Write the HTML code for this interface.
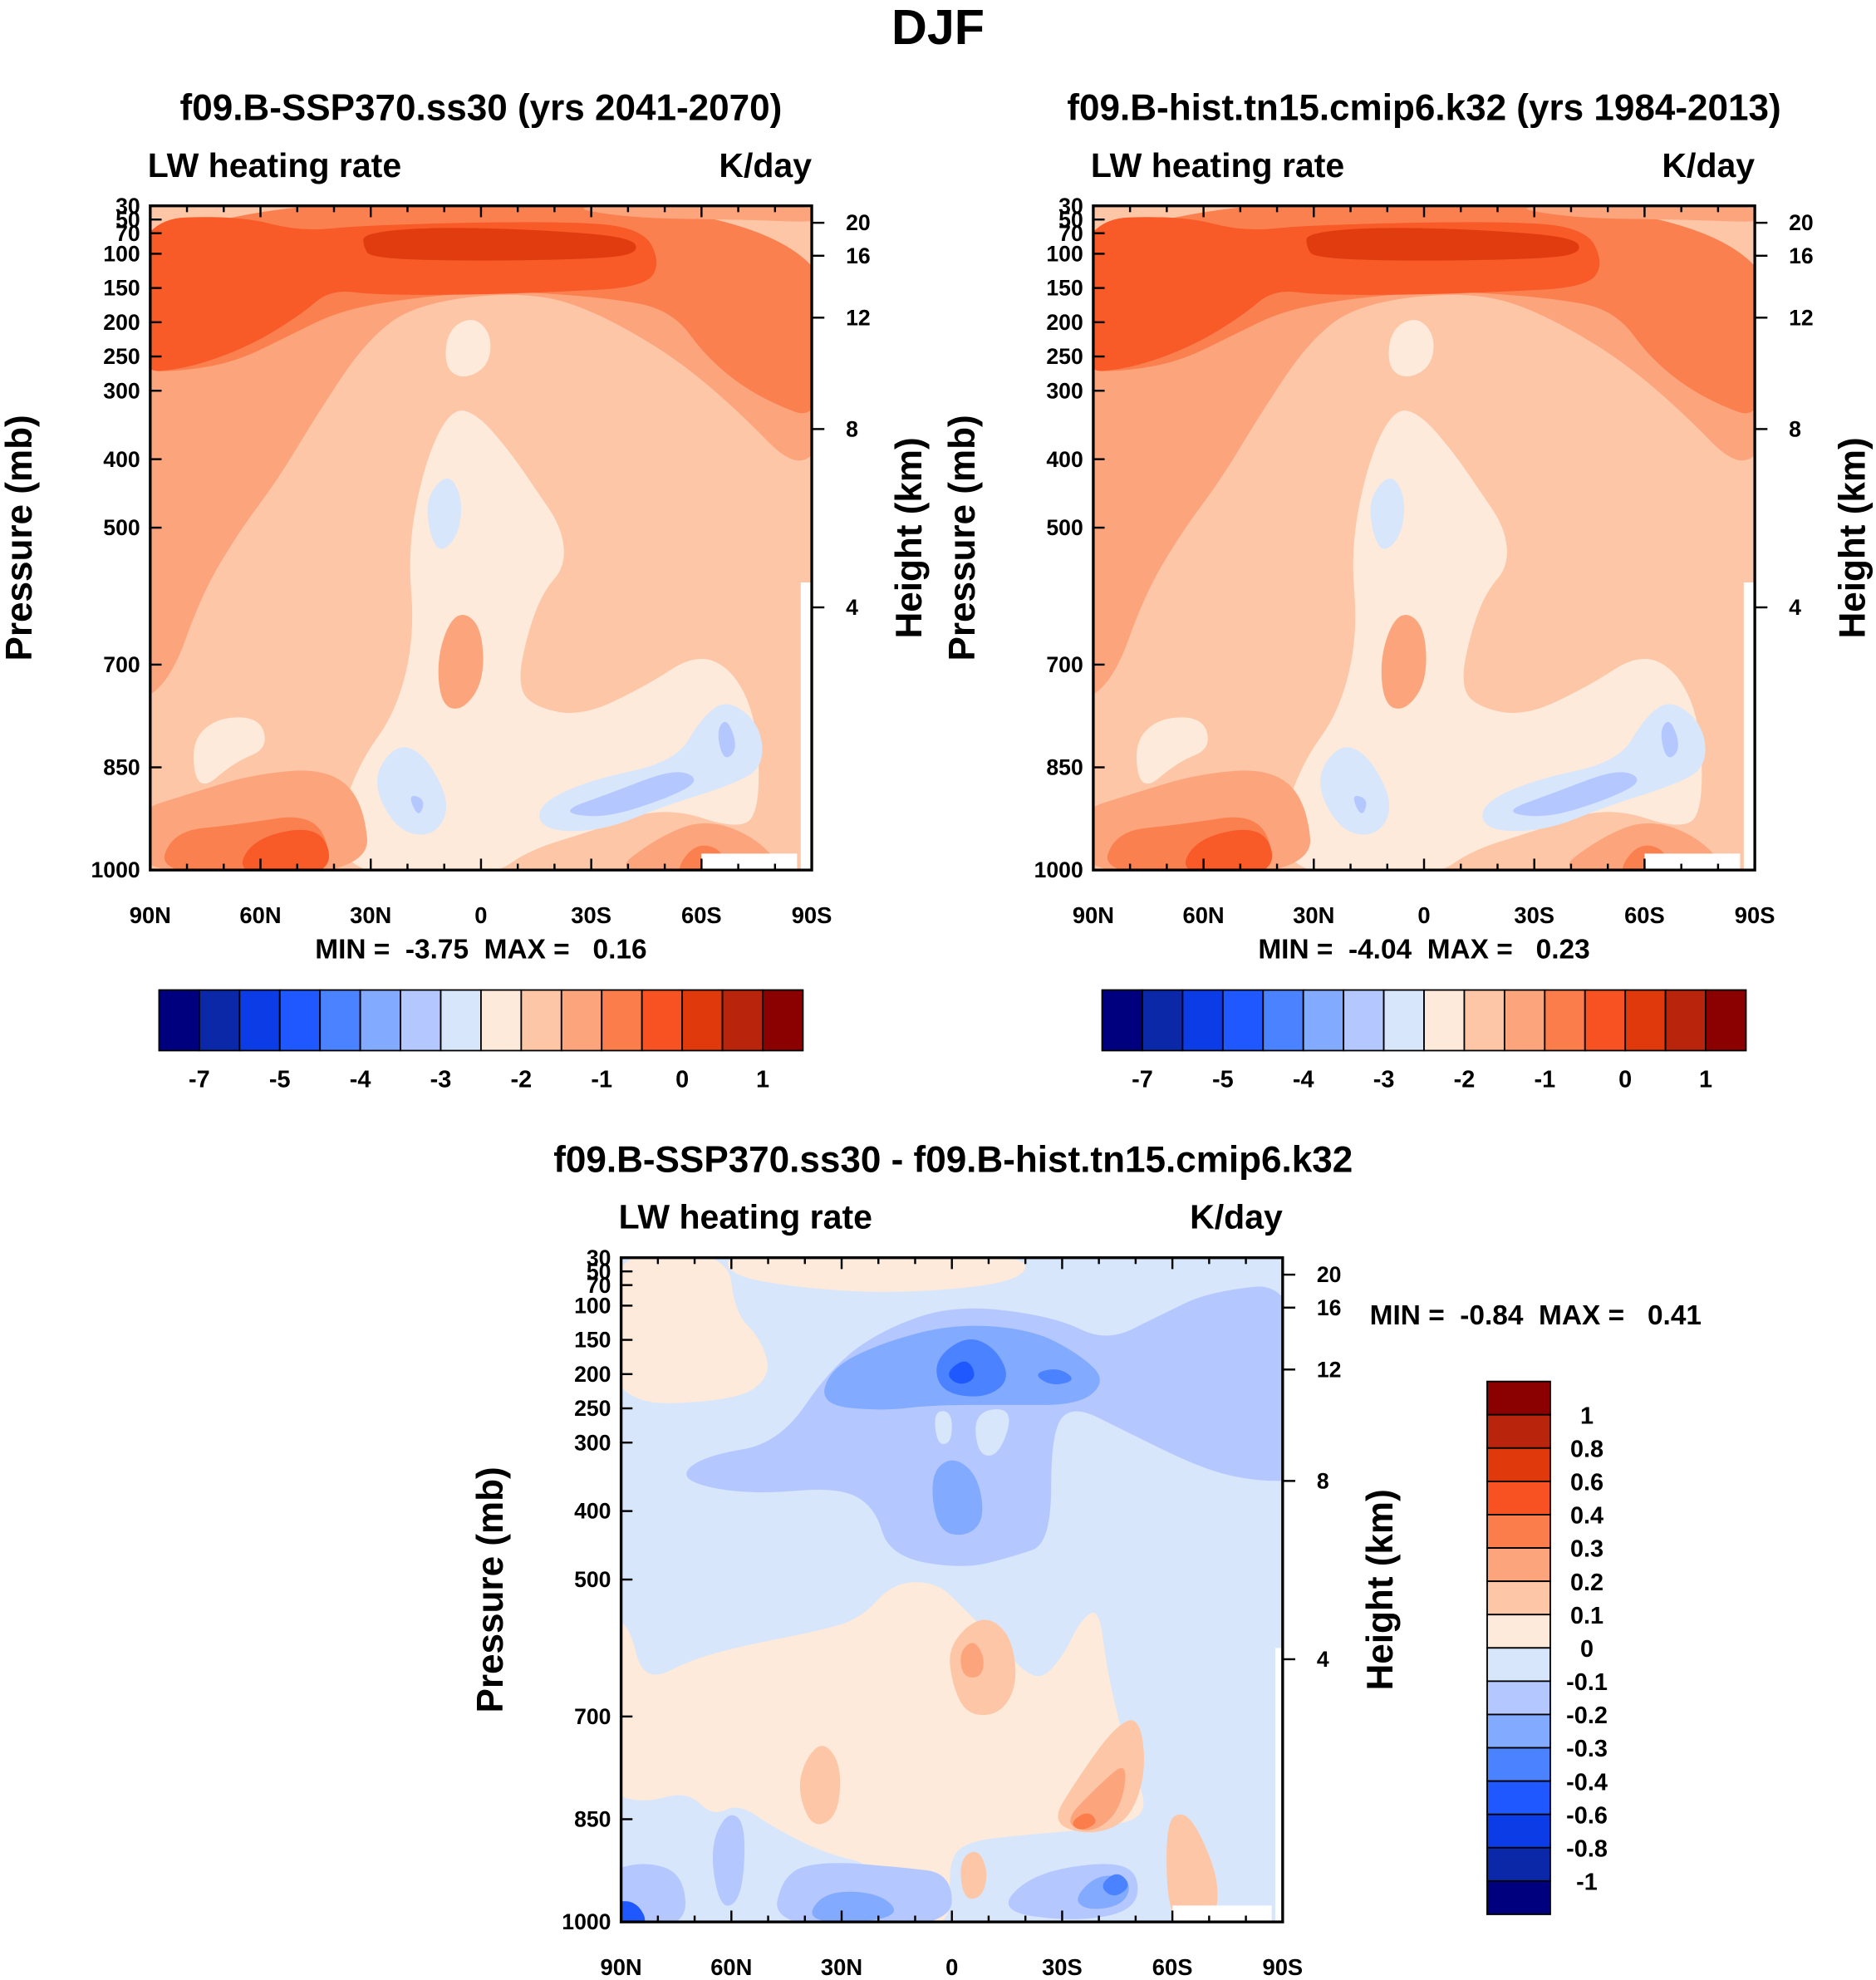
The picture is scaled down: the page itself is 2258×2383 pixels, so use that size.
<!DOCTYPE html>
<html><head><meta charset="utf-8"><style>
html,body{margin:0;padding:0;background:#fff;}
svg{display:block;font-family:"Liberation Sans",Arial,sans-serif;font-weight:bold;}
text{white-space:pre;}
</style></head><body>
<svg id="fig" xmlns="http://www.w3.org/2000/svg" width="2258" height="2383" viewBox="0 0 1486 1568" preserveAspectRatio="none">
<rect width="1486" height="1568" fill="#fff"/>
<text x="743" y="35" font-size="39" text-anchor="middle">DJF</text>
<g id="root"></g>
</svg>
<script>
// ---------- data ----------
const pressureTicks = [30,50,70,100,150,200,250,300,400,500,700,850,1000];
const heightTicks = [20,16,12,8,4];
const latTicks = [90,60,30,0,-30,-60,-90];
const latLabels = ["90N","60N","30N","0","30S","60S","90S"];
const absColors = ["#00007f","#0a28a8","#0c3ce6","#2058ff","#4b82ff","#82aaff","#b4c8ff","#d7e6fa","#fdeadb","#fdc6a6","#fca57d","#fb7d4b","#f85223","#e03a0c","#b8250c","#8b0000"];
const absLabels = ["-7","-5","-4","-3","-2","-1","0","1"];
const diffColors = ["#8b0000","#b8250c","#e03a0c","#f85223","#fb7d4b","#fca57d","#fdc6a6","#fdeadb","#d7e6fa","#b4c8ff","#82aaff","#4b82ff","#2058ff","#0c3ce6","#0a28a8","#00007f"];
const diffLabels = ["1","0.8","0.6","0.4","0.3","0.2","0.1","0","-0.1","-0.2","-0.3","-0.4","-0.6","-0.8","-1"];
// contour regions as [lat, pressure] points, with color level
const absRegions = [
 {c:"#fca57d", pts:[[95,20],[-95,20],[-95,467],[-61.5,283],[-34,190],[-13.4,154],[17.5,172],[31.3,227],[45,338],[55.3,430],[65.6,504],[75.9,596],[84.5,725],[95,760]]},
 {c:"#fb8050", pts:[[95,20],[-95,20],[-95,350],[-76,312],[-62,256],[-52,182],[-34,164],[-7,154],[17,163],[38,182],[52,219],[66,256],[80,271],[95,272]]},
 {c:"#fca57d", pts:[[-20,28],[-95,28],[-95,55],[-70,50],[-40,48]]},
 {c:"#f85a28", pts:[[95,50],[66,44],[49,68],[32,58],[-20,52],[-44,61],[-49,116],[-44,149],[-20,156],[4,160],[29,160],[41,152],[49,189],[63,235],[80,268],[95,274]]},
 {c:"#e03c10", pts:[[32,70],[14,61],[-17,65],[-41,76],[-43,98],[-34,107],[0,111],[30,107],[32,89]]},
 {c:"#fdeadb", pts:[[39,934],[33,842],[23,768],[18,657],[20,528],[15,399],[8,325],[1,334],[-8,390],[-15,445],[-22,500],[-23,556],[-17,593],[-13,648],[-10,722],[-13,759],[-27,777],[-45,731],[-58,685],[-68,704],[-75,777],[-76,906],[-71,943],[-50,906],[-30,943],[-13,971],[-3,1010],[35,1010]]},
 {c:"#fdeadb", pts:[[9,210],[2,191],[-3,219],[-2,265],[5,284],[10,265]]},
 {c:"#fdeadb", pts:[[79,814],[72,777],[60,777],[58,823],[67,842],[77,888]]},
 {c:"#fca57d", pts:[[12,685],[7,620],[0,639],[-1,722],[5,768],[11,759]]},
 {c:"#d7e6fa", pts:[[15,456],[9,419],[5,456],[6,510],[11,538],[14,510]]},
 {c:"#d7e6fa", pts:[[30,869],[23,814],[15,832],[8,906],[13,952],[23,943]]},
 {c:"#b4c8ff", pts:[[20,888],[15,897],[17,925]]},
 {c:"#d7e6fa", pts:[[-15,906],[-29,869],[-53,842],[-60,777],[-67,750],[-76,787],[-77,851],[-67,878],[-50,906],[-33,943],[-17,943]]},
 {c:"#b4c8ff", pts:[[-21,915],[-35,888],[-53,851],[-60,869],[-50,897],[-33,925]]},
 {c:"#b4c8ff", pts:[[-64,796],[-67,777],[-70,823],[-66,842]]},
 {c:"#fca57d", pts:[[95,1010],[95,915],[79,888],[62,860],[42,851],[32,897],[30,1010]]},
 {c:"#fb8050", pts:[[88,1010],[84,943],[67,934],[44,915],[40,1010]]},
 {c:"#f85a28", pts:[[67,1010],[62,952],[43,934],[40,1010]]},
 {c:"#fca57d", pts:[[-34,1010],[-48,952],[-61,925],[-75,952],[-84,1010]]},
 {c:"#fb8050", pts:[[-52,1010],[-58,960],[-66,970],[-66,1010]]}
];
const diffRegions = [
 {c:"#fdeadb", pts:[[95,20],[61,20],[59,111],[52,148],[49,203],[59,240],[95,245]]},
 {c:"#fdeadb", pts:[[61,20],[-20,20],[-20,65],[14,83],[42,74],[61,55]]},
 {c:"#b4c8ff", pts:[[74,347],[67,319],[47,301],[33,191],[19,135],[-1,98],[-28,116],[-42,153],[-56,116],[-70,79],[-95,66],[-95,356],[-82,356],[-68,338],[-47,283],[-33,245],[-27,282],[-27,447],[-17,466],[-3,485],[17,466],[21,393],[31,365],[52,375],[67,366]]},
 {c:"#82aaff", pts:[[36,245],[33,191],[19,154],[-1,126],[-22,135],[-35,172],[-42,209],[-35,245],[-15,245],[5,245],[19,254]]},
 {c:"#4b82ff", pts:[[5,180],[-4,143],[-12,162],[-16,208],[-9,236],[3,227]]},
 {c:"#4b82ff", pts:[[-22,199],[-29,190],[-34,209],[-27,218]]},
 {c:"#2058ff", pts:[[2,199],[-4,175],[-7,205],[-2,218]]},
 {c:"#d7e6fa", pts:[[5,254],[0,254],[0,300],[4,304]]},
 {c:"#d7e6fa", pts:[[-6,254],[-17,249],[-13,319],[-7,319]]},
 {c:"#82aaff", pts:[[6,347],[0,319],[-7,347],[-9,411],[-4,438],[4,429]]},
 {c:"#fdeadb", pts:[[95,560],[88,560],[84,652],[70,615],[56,596],[39,578],[25,559],[16,504],[4,504],[-3,541],[-13,596],[-23,652],[-30,615],[-35,559],[-40,541],[-42,624],[-45,698],[-49,772],[-54,845],[-40,864],[-17,874],[-4,883],[1,911],[0,1010],[18,1010],[20,918],[34,901],[48,864],[58,827],[65,846],[72,809],[84,827],[95,809]]},
 {c:"#fdc6a6", pts:[[1,596],[-8,550],[-16,578],[-18,652],[-13,698],[-4,698],[0,652]]},
 {c:"#fca57d", pts:[[-2,606],[-6,587],[-9,615],[-8,643],[-3,643]]},
 {c:"#fdc6a6", pts:[[40,763],[35,735],[30,772],[31,846],[38,864],[42,809]]},
 {c:"#fdc6a6", pts:[[-27,855],[-33,800],[-44,716],[-51,698],[-53,781],[-48,855],[-37,874]]},
 {c:"#fca57d", pts:[[-30,855],[-40,800],[-48,763],[-46,837],[-38,872]]},
 {c:"#fb7d4b", pts:[[-32,855],[-37,837],[-40,855],[-35,868]]},
 {c:"#fdc6a6", pts:[[-58,855],[-63,837],[-68,874],[-73,947],[-71,1010],[-59,1010]]},
 {c:"#fdc6a6", pts:[[-2,909],[-7,892],[-10,928],[-8,966],[-3,966]]},
 {c:"#b4c8ff", pts:[[49,1010],[46,929],[35,911],[14,920],[0,929],[0,1010]]},
 {c:"#82aaff", pts:[[40,1000],[35,956],[21,956],[14,984],[21,1000]]},
 {c:"#b4c8ff", pts:[[-12,984],[-22,929],[-43,911],[-51,929],[-50,984],[-33,1000]]},
 {c:"#82aaff", pts:[[-33,966],[-40,929],[-49,938],[-47,975],[-37,984]]},
 {c:"#4b82ff", pts:[[-40,947],[-45,925],[-49,947],[-44,966]]},
 {c:"#b4c8ff", pts:[[95,1010],[95,929],[84,911],[73,929],[72,1010]]},
 {c:"#b4c8ff", pts:[[66,892],[61,837],[56,856],[57,966],[63,984]]},
 {c:"#2058ff", pts:[[95,1010],[95,975],[86,966],[82,1010]]}
];
// ---------- drawing ----------
const NS="http://www.w3.org/2000/svg";
const root=document.getElementById('root');
function el(tag,attrs,parent,txt){const e=document.createElementNS(NS,tag);for(const k in attrs)e.setAttribute(k,attrs[k]);if(txt!==undefined)e.textContent=txt;(parent||root).appendChild(e);return e;}
function heightToP(z){const m=z*1000;return m<=11000?1013.25*Math.pow(1-2.25577e-5*m,5.25588):226.32*Math.exp(-(m-11000)/6341.6);}
function smoothPath(pp){const n=pp.length;const mid=(a,b)=>[(a[0]+b[0])/2,(a[1]+b[1])/2];let m=mid(pp[n-1],pp[0]);let d="M"+m[0].toFixed(1)+","+m[1].toFixed(1);for(let i=0;i<n;i++){const q=mid(pp[i],pp[(i+1)%n]);d+=" Q"+pp[i][0].toFixed(1)+","+pp[i][1].toFixed(1)+" "+q[0].toFixed(1)+","+q[1].toFixed(1);}return d+"Z";}
let clipId=0;
function panel(x0,y0,bg,regions,whites,name){
  const W=524,H=526;
  const xs=lat=>x0+(90-lat)/180*W;
  const ys=p=>y0+(p-30)/970*H;
  const g=el('g',{});
  
  
  const id='clip'+(clipId++);
  const cp=el('clipPath',{id:id},g);el('rect',{x:x0,y:y0,width:W,height:H},cp);
  const cg=el('g',{'clip-path':'url(#'+id+')'},g);
  const bgr=el('rect',{x:x0,y:y0,width:W,height:H,fill:bg},cg);
  
  
  regions.forEach(r=>{
    const p=el('path',{d:smoothPath(r.pts.map(q=>[xs(q[0]),ys(q[1])])),fill:r.c},cg);
    
    
  });
  whites.forEach(w=>{
    const r=el('rect',{x:xs(w[0]),y:ys(w[2]),width:xs(w[1])-xs(w[0]),height:ys(w[3])-ys(w[2]),fill:'#fff'},cg);
    
    
  });
  el('rect',{x:x0,y:y0,width:W,height:H,fill:'none',stroke:'#000','stroke-width':2.2},g);
  for(let lat=90;lat>=-90;lat-=10){
    const x=xs(lat);const major=lat%30===0;const L=major?9:5;
    el('line',{x1:x,y1:y0+H,x2:x,y2:y0+H-L,stroke:'#000','stroke-width':1.6},g);
    el('line',{x1:x,y1:y0,x2:x,y2:y0+L,stroke:'#000','stroke-width':1.6},g);
  }
  latTicks.forEach((lat,i)=>{
    const t=el('text',{x:xs(lat),y:y0+H+42,'font-size':18,'text-anchor':'middle'},g,latLabels[i]);
    
    
  });
  pressureTicks.forEach(p=>{
    const y=ys(p);
    el('line',{x1:x0,y1:y,x2:x0+9,y2:y,stroke:'#000','stroke-width':1.6},g);
    const t=el('text',{x:x0-8,y:y+6,'font-size':17.5,'text-anchor':'end'},g,String(p));
    
    
  });
  heightTicks.forEach(z=>{
    const y=ys(heightToP(z));
    el('line',{x1:x0+W,y1:y,x2:x0+W+10,y2:y,stroke:'#000','stroke-width':1.6},g);
    const t=el('text',{x:x0+W+27,y:y+6,'font-size':17.5},g,String(z));
    
    
  });
  const lt=el('text',{x:x0-2,y:y0-23,'font-size':27},g,'LW heating rate');
  
  
  const ut=el('text',{x:x0+W,y:y0-23,'font-size':27,'text-anchor':'end'},g,'K/day');
  
  
  const ya=el('text',{transform:'translate('+(x0-94)+','+(y0+H/2)+') rotate(-90)','font-size':29,'text-anchor':'middle'},g,'Pressure (mb)');
  
  
  const ya2=el('text',{transform:'translate('+(x0+W+87)+','+(y0+H/2)+') rotate(-90)','font-size':29,'text-anchor':'middle'},g,'Height (km)');
  
  
  return g;
}
function text(x,y,s,size,anchor,name){const t=el('text',{x:x,y:y,'font-size':size,'text-anchor':anchor||'start'},root,s);return t;}

const absWhites=[[-60,-86,976,1010],[-87,-90,580,1010]];
const diffWhites=[[-60,-87,976,1010],[-88,-90,600,1010]];
panel(119,163,"#fdc6a6",absRegions,absWhites,'panel-ssp370');
panel(866,163,"#fdc6a6",absRegions,absWhites,'panel-hist');
panel(492,996,"#d7e6fa",diffRegions,diffWhites,'panel-difference');

text(381,95,'f09.B-SSP370.ss30 (yrs 2041-2070)',29,'middle','title-ssp370');
text(1128,95,'f09.B-hist.tn15.cmip6.k32 (yrs 1984-2013)',29,'middle','title-hist');
text(755,928,'f09.B-SSP370.ss30 - f09.B-hist.tn15.cmip6.k32',29,'middle','title-difference');
text(381,759,'MIN =  -3.75  MAX =   0.16',22,'middle','minmax-ssp370');
text(1128,759,'MIN =  -4.04  MAX =   0.23',22,'middle','minmax-hist');
text(1085,1049,'MIN =  -0.84  MAX =   0.41',22,'start','minmax-difference');

function hbar(x0,name){
  const g=el('g',{});
  const bw=510/absColors.length;
  absColors.forEach((c,i)=>{const r=el('rect',{x:x0+i*bw,y:784,width:bw,height:48,fill:c,stroke:'#000','stroke-width':1.2},g);});
  absLabels.forEach((s,i)=>{const t=el('text',{x:x0+(2*i+1)*bw,y:861,'font-size':19,'text-anchor':'middle'},g,s);});
}
hbar(126,'colorbar-ssp370');hbar(873,'colorbar-hist');
(function(){
  const g=el('g',{});
  const bh=422/diffColors.length;
  diffColors.forEach((c,i)=>{const r=el('rect',{x:1178,y:1094+i*bh,width:50,height:bh,fill:c,stroke:'#000','stroke-width':1.2},g);});
  diffLabels.forEach((s,i)=>{const t=el('text',{x:1257,y:1094+(i+1)*bh+7,'font-size':19,'text-anchor':'middle'},g,s);});
})();
</script>
</body></html>
